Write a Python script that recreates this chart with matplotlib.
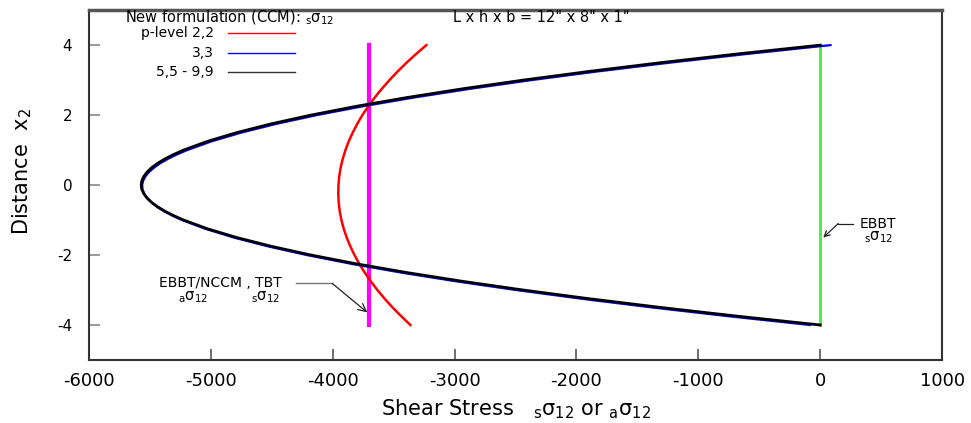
import matplotlib
matplotlib.use("Agg")
import matplotlib.pyplot as plt

plt.rcParams['font.family'] = ['DejaVu Sans']
plt.rcParams['mathtext.fontset'] = 'dejavusans'
plt.rcParams['axes.unicode_minus'] = False

# distance through the depth (x2) where the curves were read
y_pts = [4, 3.75, 3.5, 3.25, 3, 2.75, 2.5, 2.25, 2, 1.75, 1.5, 1.25, 1,
         0.875, 0.75, 0.625, 0.5, 0.375, 0.25, 0.125, 0,
         -0.125, -0.25, -0.375, -0.5, -0.625, -0.75, -0.875,
         -1, -1.25, -1.5, -1.75, -2, -2.25, -2.5, -2.75, -3, -3.25, -3.5, -3.75, -4]
# p-level 5,5 - 9,9 (black)
ccm_99 = [0, -675, -1306, -1894, -2438, -2938, -3395, -3809, -4179, -4505, -4788, -5028, -5224,
          -5305, -5376, -5436, -5485, -5523, -5550, -5567, -5572,
          -5567, -5550, -5523, -5485, -5436, -5376, -5305,
          -5224, -5028, -4788, -4505, -4179, -3809, -3395, -2938, -2438, -1894, -1306, -675, 0]
# p-level 3,3 (blue)
ccm_33 = [84, -595, -1231, -1823, -2371, -2876, -3338, -3756, -4131, -4462, -4750, -4994, -5195,
          -5279, -5352, -5415, -5466, -5507, -5537, -5556, -5564,
          -5561, -5547, -5523, -5487, -5441, -5384, -5316,
          -5237, -5046, -4813, -4535, -4214, -3850, -3442, -2991, -2497, -1958, -1377, -752, -83]

# p-level 2,2 (red)
y_red = [4, 3.75, 3.5, 3.25, 3, 2.75, 2.5, 2.25, 2, 1.75, 1.5, 1.25, 1, 0.75, 0.5, 0.25, 0,
         -0.25, -0.5, -0.75, -1, -1.25, -1.5, -1.75, -2, -2.25, -2.5, -2.75, -3, -3.25,
         -3.5, -3.75, -4]
ccm_22 = [-3232, -3315, -3394, -3467, -3535, -3598, -3656, -3709, -3757, -3799, -3836, -3869,
          -3896, -3918, -3935, -3947, -3953, -3955, -3951, -3943, -3929, -3910, -3886, -3856,
          -3822, -3783, -3738, -3688, -3634, -3574, -3509, -3438, -3363]

# constant shear stress solutions
y_const = [-4, 4]
tbt = [-3700, -3700]
ebbt = [0, 0]

SIG_S = r'$_\mathrm{s}$σ$_{12}$'
SIG_A = r'$_\mathrm{a}$σ$_{12}$'

fig = plt.figure(figsize=(9.71, 4.23), dpi=100)
ax = fig.add_axes([0.0917, 0.149, 0.8785, 0.827])

ax.plot(ebbt, y_const, color='#44ee44', lw=2, zorder=2)
ax.plot(tbt, y_const, color='#ff00ff', lw=3, zorder=2)
ax.plot(ccm_22, y_red, color='red', lw=1.8, zorder=3)
ax.plot(ccm_33, y_pts, color='blue', lw=1.6, zorder=4)
ax.plot(ccm_99, y_pts, color='black', lw=2, zorder=5)

ax.set_xlim(-6000, 1000)
ax.set_ylim(-5, 5)
ax.set_xticks(range(-6000, 1001, 1000))
ax.set_yticks([-4, -2, 0, 2, 4])
ax.tick_params(axis='x', direction='in', length=8, width=1.2, color='#555555',
               labelsize=13, pad=9, top=False)
ax.tick_params(axis='y', direction='in', length=8, width=1.2, color='#888888',
               labelsize=11, pad=12, right=False)
for sp in ax.spines.values():
    sp.set_color('#333333')
    sp.set_linewidth(1.5)
ax.spines['top'].set_color('#555555')
ax.spines['top'].set_linewidth(2.5)

ax.set_xlabel('Shear Stress   ' + SIG_S + ' or ' + SIG_A, fontsize=15, labelpad=5)
ax.set_ylabel(r'Distance  x$_2$', fontsize=15)
ax.yaxis.set_label_coords(-0.064, 0.54)

# legend drawn like the gnuplot key
tr = ax.transAxes
def px(x, y):
    return ((x - 89) / 853, (360 - y) / 350)

ax.text(*px(125, 18), 'New formulation (CCM): ' + SIG_S, transform=tr,
        fontsize=10.5, ha='left', va='center')
keys = [('p-level 2,2', 'red', 33), ('3,3', 'blue', 53), ('5,5 - 9,9', '#333333', 72)]
for lab, col, yy in keys:
    ax.text(*px(214, yy), lab, transform=tr, fontsize=10, ha='right', va='center')
    x0, y0 = px(228, yy)
    x1, _ = px(295, yy)
    ax.plot([x0, x1], [y0, y0], color=col, lw=1, transform=tr)

ax.text(*px(541, 17), 'L x h x b = 12" x 8" x 1"', transform=tr, fontsize=10.5,
        ha='center', va='center')

# annotation for EBBT/NCCM, TBT
ax.text(-4924, -2.81, 'EBBT/NCCM , TBT', fontsize=10, ha='center', va='center')
ax.text(-5145, -3.21, SIG_A, fontsize=10.5, ha='center', va='center')
ax.text(-4554, -3.21, SIG_S, fontsize=10.5, ha='center', va='center')
ax.plot([-4300, -4005], [-2.81, -2.81], color='#777777', lw=1)
ax.annotate('', xy=(-3717, -3.64), xytext=(-4005, -2.81),
            arrowprops=dict(arrowstyle='->', color='#222222', lw=0.9,
                            shrinkA=0, shrinkB=0, mutation_scale=14))

# annotation for EBBT
ax.text(476, -1.1, 'EBBT', fontsize=10, ha='center', va='center')
ax.text(476, -1.5, SIG_S, fontsize=10.5, ha='center', va='center')
ax.plot([271, 148], [-1.1, -1.1], color='#222222', lw=0.9)
ax.annotate('', xy=(25, -1.5), xytext=(148, -1.1),
            arrowprops=dict(arrowstyle='->', color='#222222', lw=0.9,
                            shrinkA=0, shrinkB=0, mutation_scale=10))

fig.savefig('out.png', dpi=100)
